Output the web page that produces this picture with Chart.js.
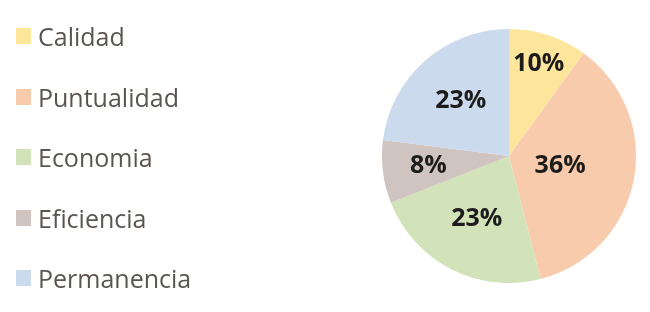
<!DOCTYPE html>
<html>
<head>
<meta charset="utf-8">
<script src="https://cdn.jsdelivr.net/npm/chart.js@4/dist/chart.umd.min.js"></script>
<style>
  html, body { margin: 0; padding: 0; background: #fff; }
  #wrap { position: relative; width: 650px; height: 312px; }
  #wrap canvas { position: absolute; left: 0; top: 0; }
  #legend {
    position: absolute; left: 16px; top: 5.75px;
    font-family: 'Open Sans', sans-serif; font-size: 25px; color: #5b5552;
  }
  #legend .item { height: 60.5px; display: flex; align-items: center; }
  #legend .box { width: 15px; height: 16px; margin-right: 7px; flex: none; }
</style>
</head>
<body>
<div id="wrap">
  <canvas id="chart" width="650" height="312"></canvas>
  <div id="legend"></div>
</div>
<script>
// ---- data ----
const labels = ['Calidad', 'Puntualidad', 'Economia', 'Eficiencia', 'Permanencia'];
const shares = [10, 36, 23, 8, 23];
const colors = ['#fee59c', '#f8cbad', '#d2e2b9', '#cfc4bf', '#ccdaed'];

// where each % label sits, as a fraction of the radius (Excel "best fit")
const labelRadius = [0.76, 0.41, 0.56, 0.64, 0.575];

const pctLabels = {
    id: 'pctLabels',
    afterDatasetsDraw(chart) {
        const ctx = chart.ctx;
        const meta = chart.getDatasetMeta(0);
        const total = shares.reduce((a, b) => a + b, 0);
        ctx.save();
        ctx.font = "bold 25px 'Open Sans', sans-serif";
        ctx.fillStyle = '#1c1c1c';
        ctx.textAlign = 'center';
        ctx.textBaseline = 'middle';
        meta.data.forEach((arc, i) => {
            const { x, y, startAngle, endAngle, outerRadius } = arc.getProps(['x', 'y', 'startAngle', 'endAngle', 'outerRadius'], true);
            const mid = (startAngle + endAngle) / 2;
            const r = outerRadius * labelRadius[i];
            const pct = Math.round(shares[i] / total * 100) + '%';
            ctx.fillText(pct, x + Math.cos(mid) * r, y + Math.sin(mid) * r);
        });
        ctx.restore();
    }
};

new Chart(document.getElementById('chart'), {
    type: 'pie',
    data: {
        labels,
        datasets: [{
            data: shares,
            backgroundColor: colors,
            borderWidth: 0,
        }]
    },
    options: {
        responsive: false,
        animation: false,
        layout: { padding: { left: 382, right: 14, top: 29, bottom: 29 } },
        plugins: {
            legend: { display: false },
            tooltip: { enabled: false },
        }
    },
    plugins: [pctLabels]
});

// html legend built from the same arrays
const legendEl = document.getElementById('legend');
labels.forEach((name, i) => {
    const item = document.createElement('div');
    item.className = 'item';
    const box = document.createElement('span');
    box.className = 'box';
    box.style.background = colors[i];
    const txt = document.createElement('span');
    txt.textContent = name;
    item.appendChild(box);
    item.appendChild(txt);
    legendEl.appendChild(item);
});
</script>
</body>
</html>
